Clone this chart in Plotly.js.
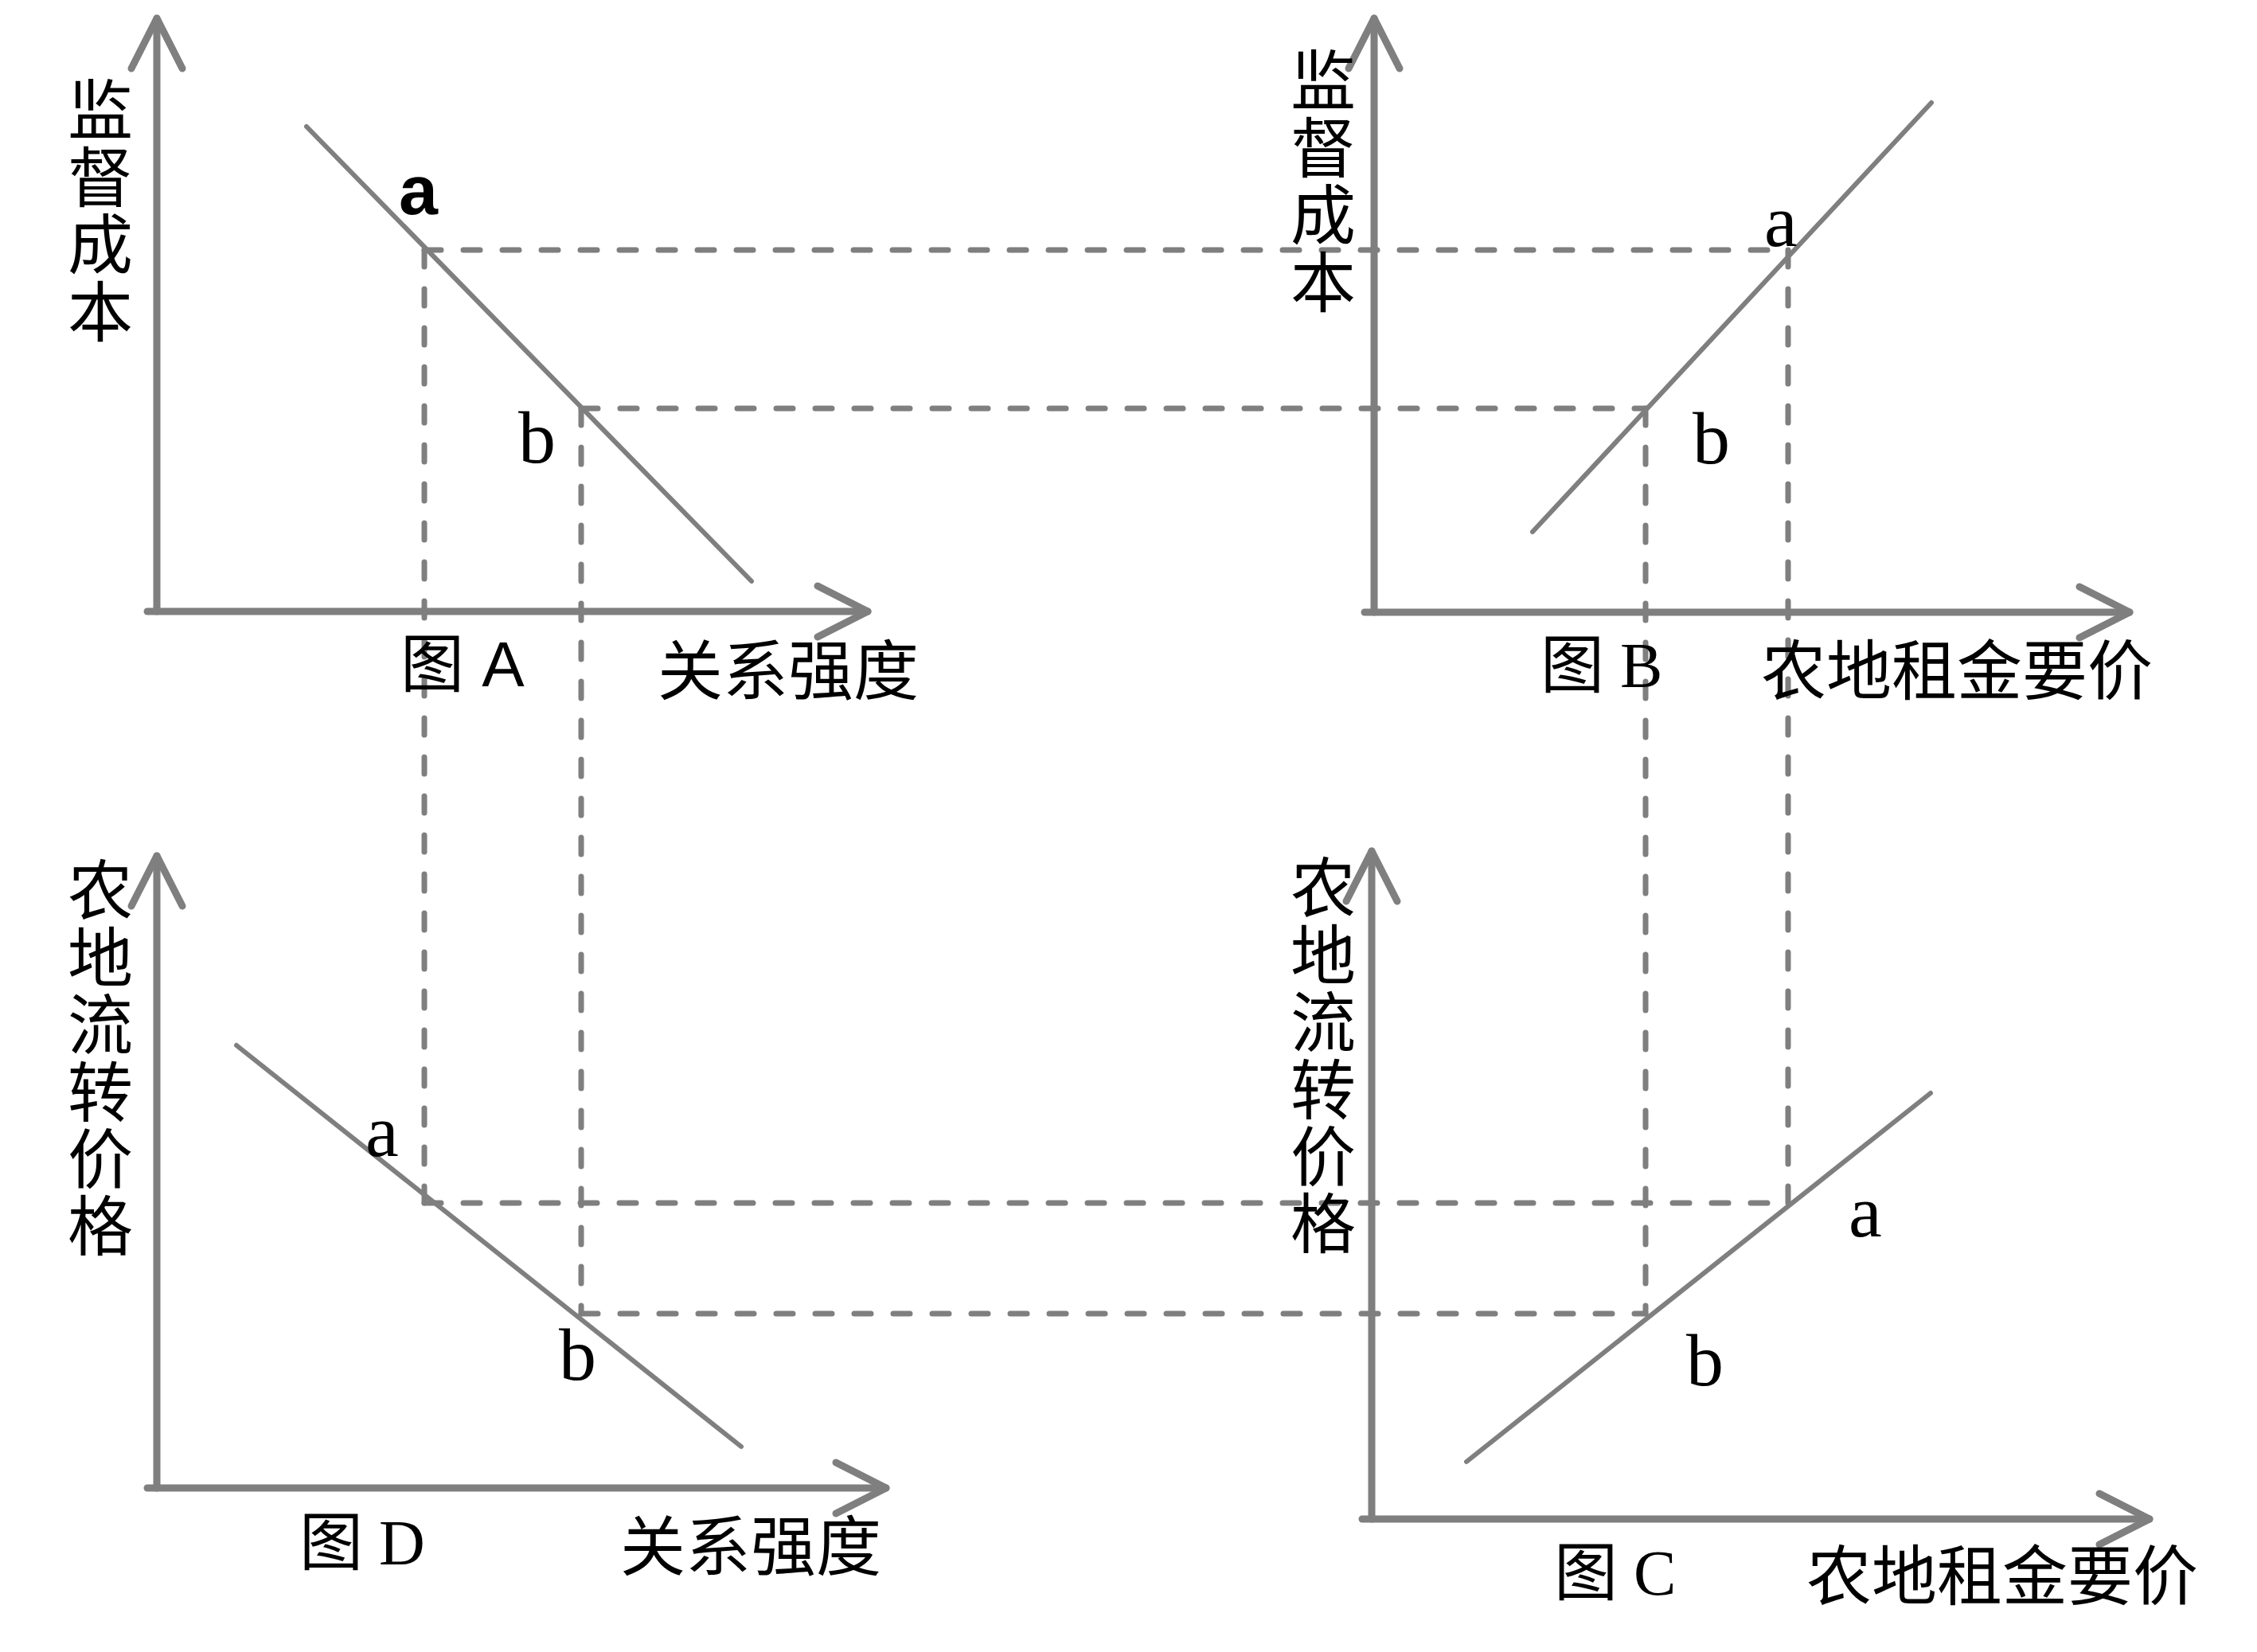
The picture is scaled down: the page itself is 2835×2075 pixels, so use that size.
<!DOCTYPE html>
<html>
<head>
<meta charset="utf-8">
<script src="https://cdn.plot.ly/plotly-3.0.1.min.js"></script>
<style>html,body{margin:0;padding:0;background:#fff;}#chart{width:2835px;height:2075px;}</style>
</head>
<body>
<div id="chart"></div>
<script>
// ---------- data (diagram space) ----------
const panelNames = ['图 A', '图 B', '图 C', '图 D'];
const xTitles = ['关系强度', '农地租金要价', '农地租金要价', '关系强度'];
const yTitles = ['监督成本', '监督成本', '农地流转价格', '农地流转价格'];
const pointLabels = ['a', 'b'];

// axes of each panel (A, B, C, D)
const axisOriginX = [197, 1726, 1723, 197];
const axisOriginY = [768, 769, 1908, 1869];
const axisTipX = [1090, 2675, 2700, 1113];
const axisTipY = [23, 23, 1069, 1075];

// curves
const curveA_x = [385, 944], curveA_y = [159, 730];
const curveB_x = [1925, 2426], curveB_y = [668, 129];
const curveC_x = [1842, 2425], curveC_y = [1836, 1373];
const curveD_x = [297, 931], curveD_y = [1313, 1817];

// points a, b on each curve
const pointA_x = [533, 730], pointA_y = [314, 513];
const pointB_x = [2246, 2067], pointB_y = [314, 513];
const pointC_x = [2246, 2067], pointC_y = [1511, 1650];
const pointD_x = [533, 730], pointD_y = [1511, 1650];

// ---------- styles / layout helpers ----------
const GRAY = '#7f7f7f';
const traces = [];
function seg(x, y, width, dash) {
  traces.push({type: 'scatter', mode: 'lines', x: x, y: y, hoverinfo: 'skip',
    line: {color: GRAY, width: width, dash: dash || 'solid'}});
}
const DASH = '21px,28px';

// dashed connectors
const conn = [
  [pointA_x, pointA_y, pointB_x, pointB_y],
  [pointA_x, pointA_y, pointD_x, pointD_y],
  [pointB_x, pointB_y, pointC_x, pointC_y],
  [pointD_x, pointD_y, pointC_x, pointC_y]
];
conn.forEach(c => {
  for (let i = 0; i < 2; i++) seg([c[0][i], c[2][i]], [c[1][i], c[3][i]], 7, DASH);
});

// curves
[[curveA_x, curveA_y], [curveB_x, curveB_y], [curveC_x, curveC_y], [curveD_x, curveD_y]]
  .forEach(c => seg(c[0], c[1], 6));

// axes with open arrowheads
const AW = 9, HX = 32, HY = 63;
for (let p = 0; p < 4; p++) {
  const ox = axisOriginX[p], oy = axisOriginY[p];
  seg([ox, ox], [axisTipY[p], oy], AW);
  seg([ox - 12, axisTipX[p]], [oy, oy], AW);
  seg([ox - HX, ox, ox + HX], [axisTipY[p] + HY, axisTipY[p], axisTipY[p] + HY], AW);
  seg([axisTipX[p] - HY, axisTipX[p], axisTipX[p] - HY], [oy - HX, oy, oy + HX], AW);
}

// ---------- annotations ----------
const CJK = '"Noto Sans CJK SC", sans-serif';
const SERIF = '"Liberation Serif", "Noto Sans CJK SC", serif';
const SANS = '"Liberation Sans", "Noto Sans CJK SC", sans-serif';
const ann = [];
function txt(t, x, y, size, fam, extra) {
  ann.push(Object.assign({text: t, x: x, y: y, xref: 'x', yref: 'y', showarrow: false,
    xanchor: 'center', yanchor: 'middle', font: {family: fam, size: size, color: '#000'}}, extra || {}));
}
// panel names and x titles
const nameX = [581, 2011, 2028, 455], nameY = [834, 836, 1976, 1938];
const nameFont = [SANS, SERIF, SERIF, SERIF];
const xtX = [990, 2458, 2515, 943], xtY = [836, 836, 1973, 1936];
for (let p = 0; p < 4; p++) {
  txt(panelNames[p], nameX[p], nameY[p], 80, nameFont[p]);
  txt(xTitles[p], xtX[p], xtY[p], 82, CJK);
}
// vertical y titles: one text per title, one character per line
const YFS = 82, CH = 84.5;
const ytX = [126, 1662, 1662, 126], ytYc = [259, 222, 1321, 1324];
for (let p = 0; p < 4; p++) {
  const chars = Array.from(yTitles[p]);
  const comp = (chars.length - 1) * (1.3 * YFS - CH) / 2;
  txt(chars.join('<br>'), ytX[p], ytYc[p] + comp, YFS, CJK);
}
// point labels
const lblX = [[526, 674], [2237, 2149], [2343, 2141], [480, 725]];
const lblY = [[247, 549], [286, 550], [1530, 1708], [1429, 1701]];
for (let p = 0; p < 4; p++) {
  for (let i = 0; i < 2; i++) {
    const bold = (p === 0 && i === 0);
    const isA = pointLabels[i] === 'a';
    txt(bold ? '<b>a</b>' : pointLabels[i], lblX[p][i], lblY[p][i] - (isA ? 9 : 0),
        bold ? 88 : 94, bold ? SANS : SERIF);
  }
}

const layout = {
  width: 2835, height: 2075,
  margin: {l: 0, r: 0, t: 0, b: 0, pad: 0},
  paper_bgcolor: '#fff', plot_bgcolor: '#fff',
  showlegend: false,
  xaxis: {range: [0, 2835], visible: false, fixedrange: true},
  yaxis: {range: [2075, 0], visible: false, fixedrange: true},
  annotations: ann
};
Plotly.newPlot('chart', traces, layout, {staticPlot: true, displayModeBar: false}).then(gd => {
  gd.querySelectorAll('.scatterlayer path.js-line').forEach(p => {
    p.style.strokeLinecap = 'round';
    p.style.strokeLinejoin = 'round';
  });
  // tighten line spacing of the vertical titles (dy of each line is relative to the first line)
  gd.querySelectorAll('.annotation-text').forEach(t => {
    const lines = t.querySelectorAll('tspan.line');
    if (lines.length > 1) {
      lines.forEach((ln, i) => { ln.setAttribute('dy', (i * CH / YFS).toFixed(4) + 'em'); });
    }
  });
});
</script>
</body>
</html>
